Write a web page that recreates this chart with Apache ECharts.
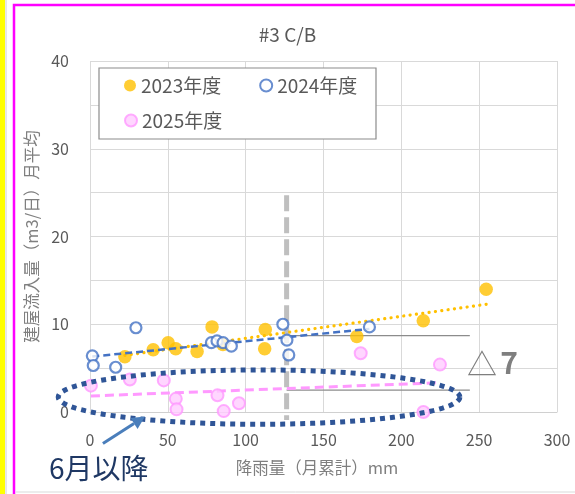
<!DOCTYPE html>
<html>
<head>
<meta charset="utf-8">
<script src="https://cdn.jsdelivr.net/npm/echarts@6.0.0/dist/echarts.min.js"></script>
<style>
html, body { margin: 0; padding: 0; background: #fff; }
#main { width: 575px; height: 494px; }
</style>
</head>
<body>
<div id="main"></div>
<script>
// 降雨量（月累計）mm と 建屋流入量（m3/日）
var rain2023 = [22.4, 40.6, 50.2, 55.1, 68.8, 78.4, 85.4, 112.6, 112.2, 171.4, 214.1, 254.5];
var flow2023 = [6.3, 7.1, 7.9, 7.2, 6.9, 9.7, 7.7, 9.4, 7.2, 8.6, 10.4, 14.0];
var rain2024 = [1.5, 2.1, 16.5, 29.5, 78.0, 81.6, 85.5, 90.8, 123.9, 126.5, 127.7, 179.5];
var flow2024 = [6.4, 5.3, 5.1, 9.6, 7.9, 8.1, 7.9, 7.5, 10.0, 8.2, 6.5, 9.7];
var rain2025 = [0.6, 25.6, 47.4, 55.1, 55.6, 81.9, 85.9, 95.7, 173.9, 224.8, 214.2];
var flow2025 = [3.0, 3.7, 3.6, 1.5, 0.3, 1.9, 0.1, 1.0, 6.7, 5.4, 0.0];
var seriesNames = ['2023年度', '2024年度', '2025年度'];
var xTicks = [0, 50, 100, 150, 200, 250, 300];
var yTicks = [0, 10, 20, 30, 40];

// 注記
var cutRain = 126.3, cutRange = [24.7, -0.9];
var bandLevels = [2.5, 8.7], bandRange = [126.3, 244];
var ellipseCenter = [108.6, 1.7], ellipseRadius = [129, 3.1];
var arrowFrom = [8.3, -3.6], arrowTo = [35.3, -0.5];

var font = "'Noto Sans CJK JP', sans-serif";

function pairs(xs, ys) {
    return xs.map(function (x, i) { return [x, ys[i]]; });
}

// 線形近似
function trend(xs, ys) {
    var n = xs.length, mx = 0, my = 0, sxy = 0, sxx = 0;
    for (var i = 0; i < n; i++) { mx += xs[i] / n; my += ys[i] / n; }
    for (var j = 0; j < n; j++) {
        sxy += (xs[j] - mx) * (ys[j] - my);
        sxx += (xs[j] - mx) * (xs[j] - mx);
    }
    var b = sxy / sxx, a = my - b * mx;
    var x0 = Math.min.apply(null, xs), x1 = Math.max.apply(null, xs);
    return [[x0, a + b * x0], [x1, a + b * x1]];
}

var chart = echarts.init(document.getElementById('main'));

var option = {
    animation: false,
    backgroundColor: '#fff',
    textStyle: { fontFamily: font },
    title: {
        text: '#3 C/B',
        left: 'center',
        top: 20,
        textStyle: { fontSize: 19, fontWeight: 'normal', color: '#595959', fontFamily: font }
    },
    legend: [
        {
            data: [seriesNames[0], seriesNames[1]],
            left: 124, top: 76, padding: 0, itemGap: 38,
            itemWidth: 12, itemHeight: 12, icon: 'circle', z: 5,
            textStyle: { fontSize: 19, color: '#595959', fontFamily: font }
        },
        {
            data: [seriesNames[2]],
            left: 124, top: 111, padding: 0,
            itemWidth: 12, itemHeight: 12, icon: 'circle', z: 5,
            textStyle: { fontSize: 19, color: '#595959', fontFamily: font }
        }
    ],
    grid: { left: 90, right: 18, top: 61, bottom: 82, containLabel: false, outerBoundsMode: 'none' },
    xAxis: {
        type: 'value',
        min: xTicks[0], max: xTicks[xTicks.length - 1], interval: 50,
        axisLine: { show: true, lineStyle: { color: '#d0d0d0' } },
        axisTick: { show: false },
        splitLine: { lineStyle: { color: '#d9d9d9' } },
        axisLabel: { fontSize: 16, color: '#595959', margin: 20, fontFamily: font },
        name: '降雨量（月累計）mm',
        nameLocation: 'middle',
        nameGap: 47,
        nameTextStyle: { fontSize: 16.5, color: '#7f7f7f', fontFamily: font, padding: [0, 13, 0, 0] }
    },
    yAxis: {
        type: 'value',
        min: yTicks[0], max: yTicks[yTicks.length - 1], interval: 5,
        axisLine: { show: false },
        axisTick: { show: false },
        splitLine: { lineStyle: { color: '#d9d9d9' } },
        axisLabel: {
            fontSize: 16, color: '#595959', margin: 21, fontFamily: font,
            formatter: function (v) { return yTicks.indexOf(v) >= 0 ? String(v) : ''; }
        },
        name: '建屋流入量（m3/日）月平均',
        nameLocation: 'middle',
        nameGap: 46,
        nameTextStyle: { fontSize: 16.5, color: '#7f7f7f', fontFamily: font }
    },
    series: [
        {
            name: seriesNames[0], type: 'scatter', symbolSize: 13.5,
            itemStyle: { color: '#FFC000' },
            data: pairs(rain2023, flow2023), z: 3
        },
        {
            name: '2023近似', type: 'line', symbol: 'none', silent: true,
            lineStyle: { color: '#FFC000', width: 3.2, type: [0.1, 6.3], cap: 'round' },
            data: trend(rain2023, flow2023), z: 4
        },
        {
            name: seriesNames[1], type: 'scatter', symbolSize: 11,
            itemStyle: { color: '#fff', borderColor: '#4472C4', borderWidth: 2.2 },
            data: pairs(rain2024, flow2024), z: 5
        },
        {
            name: '2024近似', type: 'line', symbol: 'none', silent: true,
            lineStyle: { color: '#4472C4', width: 2.5, type: [7, 4] },
            data: trend(rain2024, flow2024), z: 4
        },
        {
            name: seriesNames[2], type: 'scatter', symbolSize: 12,
            itemStyle: { color: '#FFCCFF', borderColor: '#FF99FF', borderWidth: 2 },
            data: pairs(rain2025, flow2025), z: 5
        },
        {
            name: '2025近似', type: 'line', symbol: 'none', silent: true,
            lineStyle: { color: '#FF99FF', width: 3, type: [9, 5] },
            data: trend(rain2025, flow2025), z: 4
        }
    ]
};
chart.setOption(option);

function px(p) { return chart.convertToPixel({ gridIndex: 0 }, p); }

// 注記の描画
var cutTop = px([cutRain, cutRange[0]]), cutBot = px([cutRain, cutRange[1]]);
var c = px(ellipseCenter);
var rx = px([ellipseCenter[0] + ellipseRadius[0], ellipseCenter[1]])[0] - c[0];
var ry = c[1] - px([ellipseCenter[0], ellipseCenter[1] + ellipseRadius[1]])[1];
var ellPts = [];
for (var k = 0; k <= 120; k++) {
    var t = k / 120 * Math.PI * 2;
    ellPts.push([c[0] + rx * Math.cos(t), c[1] + ry * Math.sin(t)]);
}
var a0 = px(arrowFrom), a1 = px(arrowTo);
var dx = a1[0] - a0[0], dy = a1[1] - a0[1], len = Math.sqrt(dx * dx + dy * dy);
var ux = dx / len, uy = dy / len, headL = 13, headW = 6.5;
var base = [a1[0] - ux * headL, a1[1] - uy * headL];
var hiL = px([bandRange[0], bandLevels[1]]), hiR = px([bandRange[1], bandLevels[1]]);
var loL = px([bandRange[0], bandLevels[0]]), loR = px([bandRange[1], bandLevels[0]]);

var graphics = [
    // 外枠
    { type: 'rect', shape: { x: 0, y: 0, width: 5, height: 494 }, style: { fill: '#FFFF00' }, z: 0 },
    { type: 'line', shape: { x1: 6, y1: 0, x2: 6, y2: 494 }, style: { stroke: '#d0d0d0', lineWidth: 1 }, z: 0 },
    { type: 'rect', shape: { x: 14, y: 5, width: 600, height: 600 }, style: { fill: 'none', stroke: '#FF00FF', lineWidth: 2.5 }, z: 0 },
    { type: 'line', shape: { x1: 16, y1: 492, x2: 575, y2: 492 }, style: { stroke: '#d9d9d9', lineWidth: 1 }, z: 0 },
    // 凡例の枠
    { type: 'rect', shape: { x: 99, y: 68, width: 277, height: 71 }, style: { fill: '#fff', stroke: '#8c8c8c', lineWidth: 1.2 }, z: 1 },
    // 区切り線
    { type: 'line', shape: { x1: cutTop[0], y1: cutTop[1], x2: cutBot[0], y2: cutBot[1] },
      style: { stroke: '#bfbfbf', lineWidth: 5, lineDash: [16, 6] }, z: 2 },
    { type: 'line', shape: { x1: hiL[0], y1: hiL[1], x2: hiR[0], y2: hiR[1] },
      style: { stroke: '#8c8c8c', lineWidth: 1.3 }, z: 2 },
    { type: 'line', shape: { x1: loL[0], y1: loL[1], x2: loR[0], y2: loR[1] },
      style: { stroke: '#8c8c8c', lineWidth: 1.3 }, z: 2 },
    // 楕円
    { type: 'polyline', shape: { points: ellPts },
      style: { stroke: '#2F5597', lineWidth: 5, lineDash: [5, 5], fill: 'none' }, z: 6 },
    // 矢印
    { type: 'line', shape: { x1: a0[0], y1: a0[1], x2: base[0], y2: base[1] },
      style: { stroke: '#4A7EBB', lineWidth: 3 }, z: 6 },
    { type: 'polygon', shape: { points: [a1, [base[0] - uy * headW, base[1] + ux * headW], [base[0] + uy * headW, base[1] - ux * headW]] },
      style: { fill: '#4A7EBB' }, z: 6 },
    // 文字
    { type: 'text', x: 482, y: 364, style: { text: '△', font: 'normal 30px ' + font, fill: '#7f7f7f', align: 'center', verticalAlign: 'middle' }, z: 6 },
    { type: 'text', x: 509, y: 363, style: { text: '7', font: 'bold 30px ' + font, fill: '#7f7f7f', align: 'center', verticalAlign: 'middle' }, z: 6 },
    { type: 'text', x: 49, y: 468, style: { text: '6月以降', font: 'normal 28px ' + font, fill: '#1F3864', align: 'left', verticalAlign: 'middle' }, z: 6 }
];
chart.setOption({ graphic: graphics });
</script>
</body>
</html>
